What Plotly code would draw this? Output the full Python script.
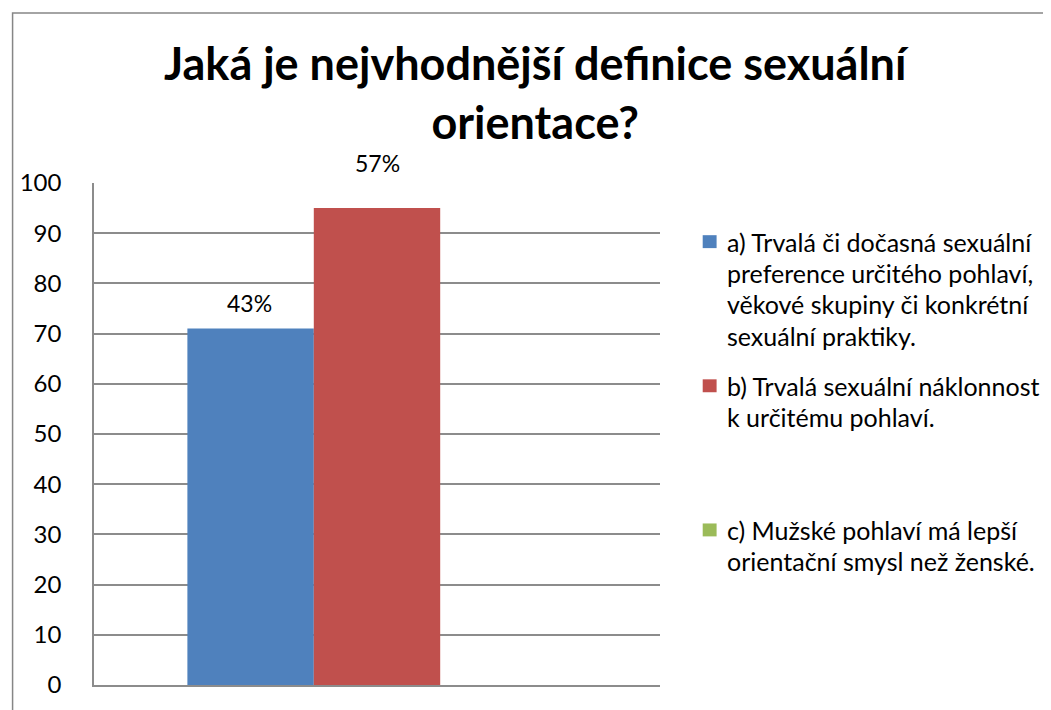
import plotly.graph_objects as go

# ---- data ----
categories = ["Q"]
series_names = [
    "a) Trvalá či dočasná sexuální preference určitého pohlaví, věkové skupiny či konkrétní sexuální praktiky.",
    "b) Trvalá sexuální náklonnost k určitému pohlaví.",
    "c) Mužské pohlaví má lepší orientační smysl než ženské.",
]
values_a = [71]
values_b = [95]
values_c = [0]
data_labels = ["43%", "57%", ""]
legend_lines = [
    ["a) Trvalá či dočasná sexuální", "preference určitého pohlaví,", "věkové skupiny či konkrétní", "sexuální praktiky."],
    ["b) Trvalá sexuální náklonnost", "k určitému pohlaví."],
    ["c) Mužské pohlaví má lepší", "orientační smysl než ženské."],
]
y_ticks = list(range(0, 101, 10))
title_text = "Jaká je nejvhodnější definice sexuální<br>orientace?"

# ---- style ----
colors = ["#4F81BD", "#C0504D", "#9BBB59"]
FONT = "Lato"
OFF = 8  # page body margin
W, H = 1051 - OFF, 710 - OFF
# plot area in page pixels: x 90..660, y 183..688
L = 90 - OFF
T = 183 - OFF
R = W - (660 - OFF)
B = H - (688 - OFF)
PW, PH = W - L - R, H - T - B
BARGAP = 0.33
GRID = "#8c8c8c"


def px_x(px):
    return (px - OFF - L) / PW


def px_y(py):
    return (H - B - (py - OFF)) / PH


fig = go.Figure()
for name, vals, col in zip(series_names, [values_a, values_b, values_c], colors):
    fig.add_trace(go.Bar(x=categories, y=vals, name=name, marker=dict(color=col, line=dict(width=0)),
                         showlegend=False, hoverinfo="y"))

annotations = []
bar_w = PW * (1 - BARGAP) / 3
label_yshift = [26, 45, 26]
for i, (vals, lab) in enumerate(zip([values_a, values_b, values_c], data_labels)):
    if lab:
        annotations.append(dict(x=categories[0], y=vals[0], xref="x", yref="y", text=lab, showarrow=False,
                                xshift=bar_w * (i - 1), yshift=label_yshift[i], yanchor="middle",
                                font=dict(family=FONT, size=23, color="#000000")))

# title
annotations.append(dict(x=px_x(536), y=px_y(92), xref="paper", yref="paper", text="<b>" + title_text + "</b>",
                        showarrow=False, xanchor="center", yanchor="middle",
                        font=dict(family=FONT, size=45, color="#000000")))

# legend (manual)
shapes = []
legend_first_line = [242, 387, 532]
line_step = 31.5
for lines, col, y0 in zip(legend_lines, colors, legend_first_line):
    shapes.append(dict(type="rect", xref="paper", yref="paper", x0=px_x(703), x1=px_x(717),
                       y0=px_y(y0 - 6.5), y1=px_y(y0 + 6.5), fillcolor=col, line=dict(width=0)))
    for k, ln in enumerate(lines):
        annotations.append(dict(x=px_x(725), y=px_y(y0 + k * line_step), xref="paper", yref="paper", text=ln,
                                showarrow=False, xanchor="left", yanchor="middle",
                                font=dict(family=FONT, size=25, color="#000000")))

# outer chart border
shapes.append(dict(type="rect", xref="paper", yref="paper", x0=px_x(8), x1=px_x(1300),
                   y0=px_y(900), y1=px_y(12), line=dict(color="#868686", width=1.5), fillcolor="rgba(0,0,0,0)"))

fig.update_layout(
    width=W, height=H, autosize=False,
    margin=dict(l=L, r=R, t=T, b=B, pad=0),
    paper_bgcolor="white", plot_bgcolor="white",
    barmode="group", bargap=BARGAP, bargroupgap=0,
    font=dict(family=FONT, color="#000000"),
    annotations=annotations, shapes=shapes,
    xaxis=dict(type="category", showticklabels=False, showgrid=False, showline=True, linecolor=GRID,
               linewidth=1.5, ticks="", zeroline=False, fixedrange=True),
    yaxis=dict(range=[0, 100], tickvals=y_ticks, ticktext=[str(v) for v in y_ticks], showgrid=True,
               gridcolor=GRID, gridwidth=1.5, showline=True, linecolor=GRID, linewidth=1.5, zeroline=False,
               ticks="", ticklabelstandoff=26, tickfont=dict(family=FONT, size=24, color="#000000"),
               fixedrange=True),
)

fig.write_html("out.html")
